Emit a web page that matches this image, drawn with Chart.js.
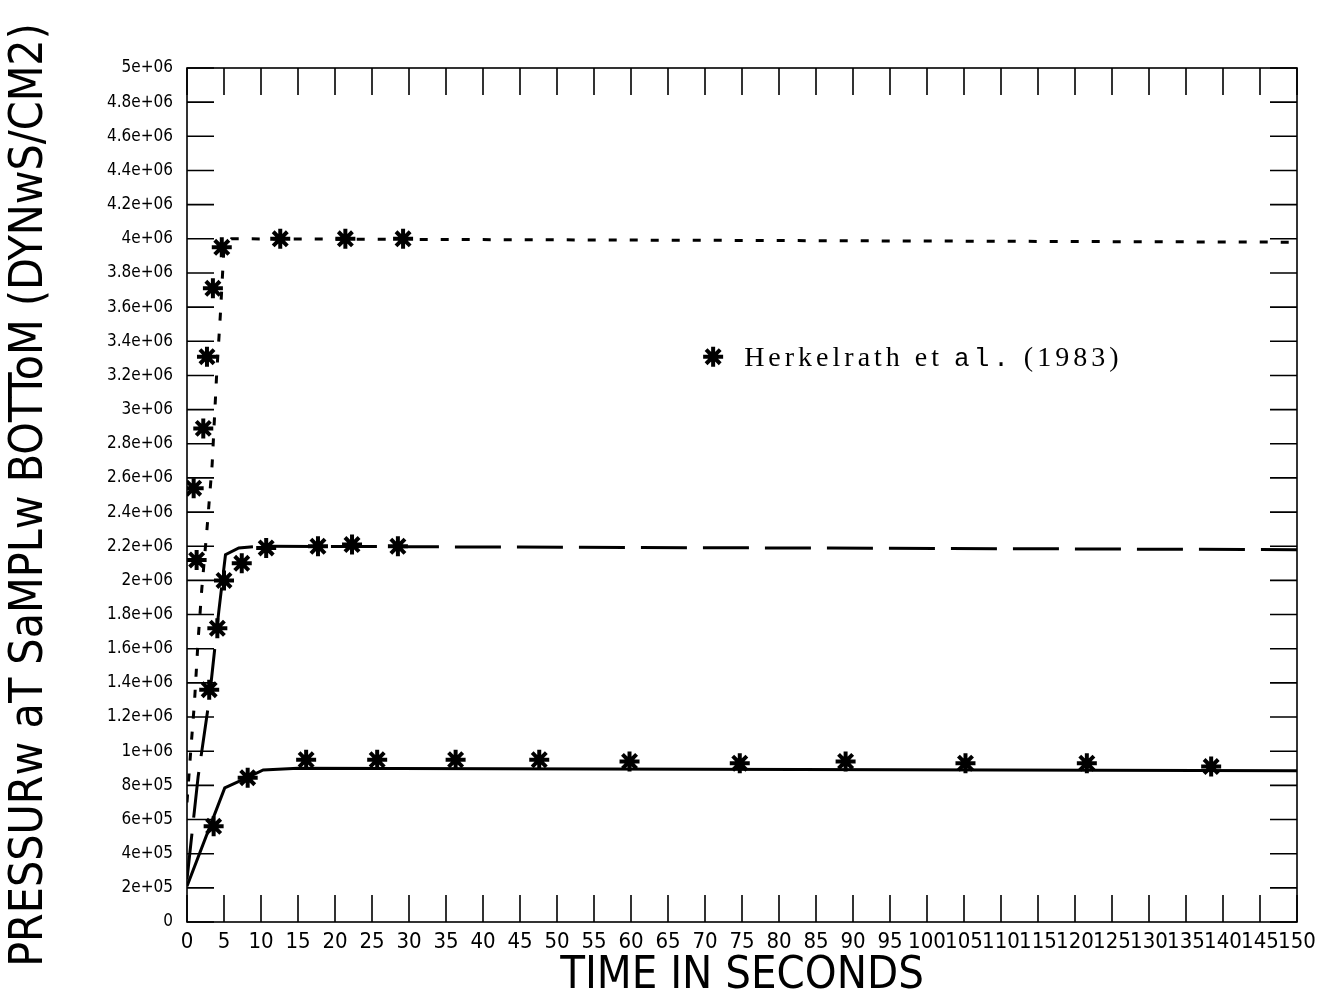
<!DOCTYPE html>
<html>
<head>
<meta charset="utf-8">
<script src="https://cdn.jsdelivr.net/npm/chart.js@4.4.1/dist/chart.umd.min.js"></script>
<style>
  html, body { margin: 0; padding: 0; background: #fff; }
  #wrap { width: 1334px; height: 994px; }
</style>
</head>
<body>
<div id="wrap"><canvas id="chart" width="1334" height="994"></canvas></div>
<script>
/* ==========================
   DATA
========================== */
const xTickLabels = ["0","5","10","15","20","25","30","35","40","45","50","55","60","65","70","75",
  "80","85","90","95","100","105","110","115","120","125","130","135","140","145","150"];
const yTickLabels = ["0","2e+05","4e+05","6e+05","8e+05","1e+06","1.2e+06","1.4e+06","1.6e+06","1.8e+06",
  "2e+06","2.2e+06","2.4e+06","2.6e+06","2.8e+06","3e+06","3.2e+06","3.4e+06","3.6e+06","3.8e+06",
  "4e+06","4.2e+06","4.4e+06","4.6e+06","4.8e+06","5e+06"];

// model curves: time (s) / pressure (dyn/cm2)
const lowCurveT = [0, 5.1, 8.2, 10.3, 15, 150];
const lowCurveP = [2.1e5, 7.85e5, 8.47e5, 8.9e5, 9.0e5, 8.85e5];

const midCurveT = [0, 1.5, 3, 4.3, 5.2, 7, 10, 150];
const midCurveP = [2.5e5, 8.5e5, 1.3e6, 1.82e6, 2.15e6, 2.19e6, 2.2e6, 2.18e6];

const topCurveT = [0, 0.5, 1, 1.5, 2, 2.7, 3.4, 4, 4.5, 5, 6, 150];
const topCurveP = [7e5, 1.0e6, 1.28e6, 1.65e6, 1.95e6, 2.3e6, 2.68e6, 3.2e6, 3.55e6, 3.95e6, 4.0e6, 3.98e6];

// Herkelrath et al. (1983) measurements
const lowObsT = [3.6, 8.2, 16.1, 25.7, 36.3, 47.6, 59.8, 74.7, 89.0, 105.2, 121.6, 138.4];
const lowObsP = [5.6e5, 8.45e5, 9.5e5, 9.5e5, 9.5e5, 9.5e5, 9.4e5, 9.3e5, 9.4e5, 9.3e5, 9.3e5, 9.1e5];

const midObsT = [1.3, 3.0, 4.1, 5.0, 7.4, 10.7, 17.7, 22.3, 28.5];
const midObsP = [2.12e6, 1.36e6, 1.72e6, 2.0e6, 2.1e6, 2.19e6, 2.2e6, 2.21e6, 2.2e6];

const topObsT = [0.9, 2.2, 2.7, 3.5, 4.7, 12.6, 21.4, 29.2];
const topObsP = [2.54e6, 2.89e6, 3.31e6, 3.71e6, 3.95e6, 4.0e6, 4.0e6, 4.0e6];

const legendText = ["Herkelrath et ", "al.", " (1983)"];

/* ==========================
   HELPERS
========================== */
const pts = (t, p) => t.map((v, i) => ({ x: v, y: p[i] }));

const lineSet = (t, p, dash) => ({
  type: "line",
  data: pts(t, p),
  borderColor: "#000",
  borderWidth: 3,
  borderDash: dash,
  pointRadius: 0,
  tension: 0,
  order: 2
});

const obsSet = (t, p) => ({
  type: "scatter",
  data: pts(t, p),
  pointStyle: "star",
  pointRadius: 10,
  borderColor: "#000",
  backgroundColor: "#000",
  pointBorderWidth: 4,
  order: 1
});

/* ==========================
   FRAME + INWARD TICKS
========================== */
const framePlugin = {
  id: "frame",
  beforeDatasetsDraw(chart) {
    const { ctx, chartArea: a, scales: { x, y } } = chart;
    const len = 27;
    ctx.save();
    ctx.strokeStyle = "#000";
    ctx.lineWidth = 1.6;
    ctx.strokeRect(a.left, a.top, a.width, a.height);
    ctx.beginPath();
    x.ticks.forEach(t => {
      const px = x.getPixelForValue(t.value);
      ctx.moveTo(px, a.bottom); ctx.lineTo(px, a.bottom - len);
      ctx.moveTo(px, a.top); ctx.lineTo(px, a.top + len);
    });
    y.ticks.forEach(t => {
      const py = y.getPixelForValue(t.value);
      ctx.moveTo(a.left, py); ctx.lineTo(a.left + len, py);
      ctx.moveTo(a.right, py); ctx.lineTo(a.right - len, py);
    });
    ctx.stroke();
    ctx.restore();
  }
};

/* ==========================
   LEGEND (inside plot)
========================== */
const legendPlugin = {
  id: "herkLegend",
  afterDraw(chart) {
    const { ctx, chartArea: a } = chart;
    const sx = a.left + a.width * 0.474;
    const sy = a.top + a.height * 0.338;
    ctx.save();
    ctx.strokeStyle = "#000";
    ctx.fillStyle = "#000";
    ctx.lineWidth = 4;
    Chart.helpers.drawPoint(ctx, { pointStyle: "star", radius: 10, borderWidth: 4 }, sx, sy);
    ctx.textBaseline = "alphabetic";
    ctx.letterSpacing = "4px";
    let tx = sx + 31;
    const ty = sy + 9;
    const fonts = ["28px 'Liberation Serif', serif", "26px 'Liberation Mono', monospace", "28px 'Liberation Serif', serif"];
    legendText.forEach((s, i) => {
      ctx.font = fonts[i];
      ctx.fillText(s, tx, ty);
      tx += ctx.measureText(s).width;
    });
    ctx.restore();
  }
};

/* ==========================
   CHART
========================== */
const tickFont = "'Liberation Sans Narrow', 'DejaVu Sans Condensed', sans-serif";

new Chart(document.getElementById("chart"), {
  data: {
    datasets: [
      lineSet(lowCurveT, lowCurveP, []),
      lineSet(midCurveT, midCurveP, [46, 16]),
      lineSet(topCurveT, topCurveP, [8, 13]),
      obsSet(lowObsT, lowObsP),
      obsSet(midObsT, midObsP),
      obsSet(topObsT, topObsP)
    ]
  },
  options: {
    responsive: false,
    animation: false,
    layout: { padding: { top: 68, right: 37, left: 0, bottom: 0 } },
    plugins: { legend: { display: false }, tooltip: { enabled: false } },
    scales: {
      x: {
        type: "linear",
        min: 0, max: 150,
        grid: { display: false, drawTicks: false },
        border: { display: false },
        ticks: {
          stepSize: 5, autoSkip: false, maxRotation: 0, padding: 7,
          color: "#000", font: { family: tickFont, size: 22 },
          callback: (v, i) => xTickLabels[i]
        },
        title: {
          display: true, text: "TIME IN SECONDS", color: "#000",
          font: { family: tickFont, size: 45, lineHeight: 0.8 },
          padding: { top: 0, bottom: 0 }
        },
        afterFit: s => { s.height = 72; }
      },
      y: {
        type: "linear",
        min: 0, max: 5e6,
        grid: { display: false, drawTicks: false },
        border: { display: false },
        ticks: {
          stepSize: 2e5, autoSkip: false, padding: 14,
          color: "#000", font: { family: tickFont, size: 17 },
          callback: (v, i) => yTickLabels[i]
        },
        title: {
          display: true, text: "PRESSURw aT SaMPLw BOTToM (DYNwS/CM2)", color: "#000",
          font: { family: tickFont, size: 46, lineHeight: 1.1 },
          padding: { top: 5, bottom: 0 }
        },
        afterFit: s => { s.width = 187; }
      }
    }
  },
  plugins: [framePlugin, legendPlugin]
});
</script>
</body>
</html>
